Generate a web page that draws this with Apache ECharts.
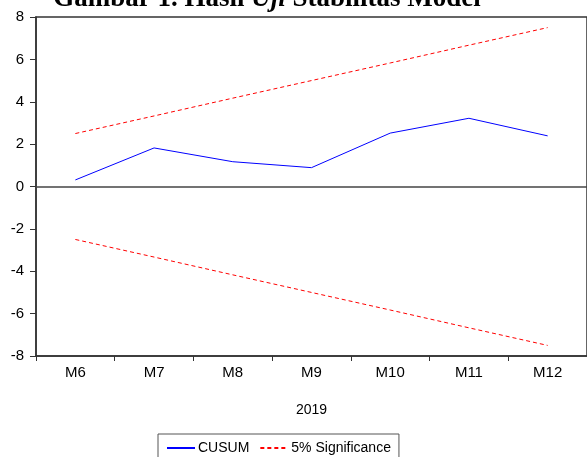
<!DOCTYPE html>
<html>
<head>
<meta charset="utf-8">
<script src="https://cdn.jsdelivr.net/npm/echarts@6/dist/echarts.min.js"></script>
<style>
	html,body{margin:0;padding:0;background:#fff;}
	#chartBox{width:587px;height:457px;}
</style>
</head>
<body>
<div id="chartBox"></div>
<script>
var months = ["M6","M7","M8","M9","M10","M11","M12"];
var cusum = [0.31,1.82,1.17,0.89,2.52,3.22,2.39];
var upper5 = [2.50,3.33,4.17,5.00,5.83,6.67,7.50];
var lower5 = [-2.50,-3.33,-4.17,-5.00,-5.83,-6.67,-7.50];
var yTicks = [-8,-6,-4,-2,0,2,4,6,8];

this.stab = this.stab||{};
(function(){
	var CusumChart = function(){
		this.init();
	};
	var p = CusumChart.prototype;

	p.init = function(){
		this.chart = echarts.init(document.getElementById("chartBox"));
		this.chart.setOption(this.getOption());
	};

	p.getOption = function(){
		var axisColor = "#333";
		var dashLine = {color:"#ff0000",width:1,type:[4,3]};
		return {
			animation: false,
			graphic: [{
				type: "text",
				x: 267,
				y: -1,
				style: {
					text: "{b|Gambar 1. Hasil }{i|Uji}{b| Stabilitas Model}",
					rich: {
						b: {font: "bold 27px 'Liberation Serif'", fill: "#000"},
						i: {font: "italic bold 27px 'Liberation Serif'", fill: "#000"}
					},
					align: "center",
					verticalAlign: "middle"
				}
			}],
			grid: {
				left: 36, top: 17, width: 555, bottom: 101,
				show: true, borderColor: axisColor, borderWidth: 1.5
			},
			legend: {
				top: 434,
				left: 158,
				data: ["CUSUM","5% Significance"],
				itemWidth: 28,
				itemHeight: 10,
				itemGap: 10,
				padding: [7,8,20,8],
				borderColor: "#555",
				borderWidth: 1,
				borderRadius: 0,
				itemStyle: {opacity: 0},
				textStyle: {fontFamily: "Liberation Sans", fontSize: 14, color: "#000", padding: [0,0,0,-2]}
			},
			xAxis: {
				type: "category",
				data: months,
				boundaryGap: true,
				name: "2019",
				nameLocation: "middle",
				nameGap: 47,
				nameTextStyle: {fontFamily: "Liberation Sans", fontSize: 14, color: "#000"},
				axisLine: {onZero: false, lineStyle: {color: axisColor, width: 1.5}},
				axisTick: {show: true, inside: false, length: 5, lineStyle: {color: axisColor}},
				axisLabel: {fontFamily: "Liberation Sans", fontSize: 15, color: "#000", margin: 9},
				splitLine: {show: false}
			},
			yAxis: {
				type: "value",
				min: -8, max: 8, interval: 2,
				axisLine: {show: true, lineStyle: {color: axisColor, width: 1.5}},
				axisTick: {show: true, inside: false, length: 6, lineStyle: {color: axisColor}},
				axisLabel: {
					fontFamily: "Liberation Sans", fontSize: 15, color: "#000", margin: 12,
					customValues: yTicks
				},
				splitLine: {show: false}
			},
			series: [
				{
					name: "CUSUM", type: "line", data: cusum,
					symbol: "none", lineStyle: {color: "#0000ff", width: 1},
					itemStyle: {color: "#0000ff"},
					markLine: {
						silent: true, symbol: "none", label: {show: false},
						lineStyle: {color: "#444", width: 1.5, type: "solid"},
						data: [{yAxis: 0}]
					}
				},
				{
					name: "5% Significance", type: "line", data: upper5,
					symbol: "none", lineStyle: dashLine, itemStyle: {color: "#ff0000"}
				},
				{
					name: "5% Significance", type: "line", data: lower5,
					symbol: "none", lineStyle: dashLine, itemStyle: {color: "#ff0000"}
				}
			]
		};
	};

	stab.CusumChart = CusumChart;
})();

new stab.CusumChart();
</script>
</body>
</html>
